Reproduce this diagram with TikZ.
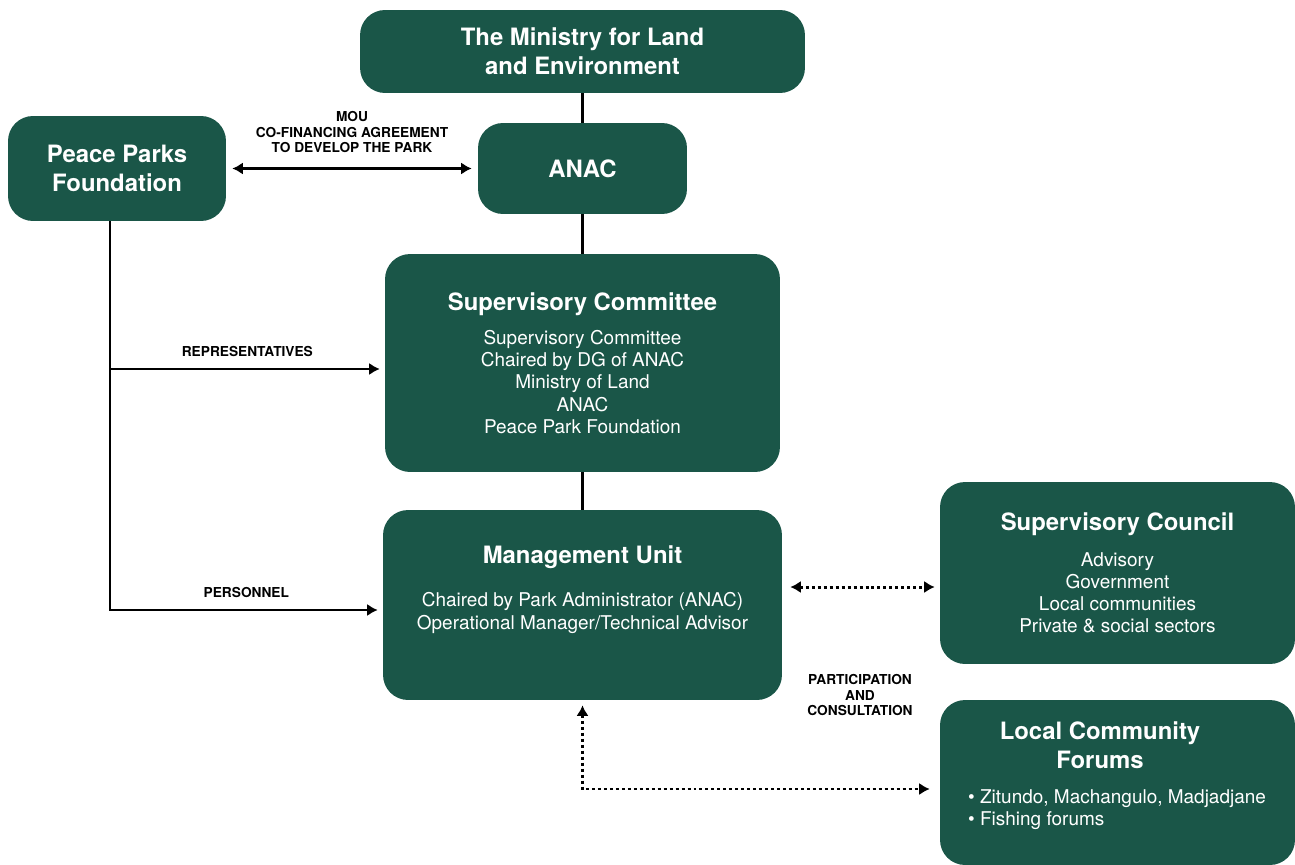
\documentclass[tikz,border=0pt]{standalone}
\usepackage{fontspec}
\setmainfont{TeX Gyre Heros}
\usetikzlibrary{arrows.meta,positioning}
\definecolor{parkgreen}{RGB}{26,86,72}

\newcommand{\headfont}{\fontsize{13.6}{16.4}\selectfont\bfseries}
\newcommand{\bodyfont}{\fontsize{10.8}{12.6}\selectfont}
\newcommand{\labfont}{\fontsize{7.8}{8.8}\selectfont\bfseries}

\begin{document}
\begin{tikzpicture}[x=0.02cm, y=-0.02cm,
  box/.style={fill=parkgreen, rounded corners=0.5cm, text=white, align=center, inner sep=0pt},
  head/.style={font=\headfont, text=white, align=center},
  body/.style={font=\bodyfont, text=white, align=center},
  link/.style={line width=1.4pt},
  dots/.style={line width=1.7pt, dash pattern=on 1.7pt off 1.7pt},
  oneway/.style={-{Latex[length=6pt,width=7pt]}},
  twoway/.style={{Latex[length=6pt,width=7pt]}-{Latex[length=6pt,width=7pt]}},
  lbl/.style={font=\labfont, align=center}]

\useasboundingbox (0,0) rectangle (1295,865);

% boxes
\node[box, head, minimum width=8.9cm, minimum height=1.66cm] (min) at (582.5,51.5) {The Ministry for Land\\and Environment};
\node[box, head, minimum width=4.36cm, minimum height=2.1cm] (ppf) at (117,168.5) {Peace Parks\\Foundation};
\node[box, head, minimum width=4.18cm, minimum height=1.82cm] (anac) at (582.5,168.5) {ANAC};
\node[box, body, minimum width=7.9cm, minimum height=4.36cm] (sc) at (582.5,363)
  {{\headfont Supervisory Committee}\\[7pt]Supervisory Committee\\Chaired by DG of ANAC\\Ministry of Land\\ANAC\\Peace Park Foundation};
\node[box, minimum width=7.98cm, minimum height=3.8cm] (mu) at (582.5,605) {};
\node[head] (muhead) at (582.5,557) {Management Unit};
\node[body] (mubody) at (582.5,613) {Chaired by Park Administrator (ANAC)\\Operational Manager/Technical Advisor};
\node[box, body, minimum width=7.1cm, minimum height=3.64cm] (council) at (1117.5,573)
  {{\headfont Supervisory Council}\\[8pt]Advisory\\Government\\Local communities\\Private \& social sectors};
\node[box, minimum width=7.1cm, minimum height=3.3cm] (lcf) at (1117.5,782.5) {};
\node[head] (lcfhead) at (1100,745) {Local Community\\Forums};
\node[body, align=left, anchor=west] (lcfbody) at (962,810) {\textbullet{} Zitundo, Machangulo, Madjadjane\\\textbullet{} Fishing forums};

% hierarchy
\draw[link] (min) -- (anac);
\draw[link] (anac) -- (sc);
\draw[link] (sc) -- (mu);

% peace parks links
\draw[link, twoway, shorten <=0.12cm, shorten >=0.12cm] (ppf.east) --
  node[lbl, above=0.17cm] (moulbl) {MOU\\CO-FINANCING AGREEMENT\\TO DEVELOP THE PARK} (anac.west);
\coordinate (trunk) at ([xshift=-0.14cm]ppf.south);
\draw[link, oneway, shorten >=0.1cm] (trunk) |- ([yshift=-0.12cm]sc.west)
  node[lbl, pos=0.75, above=0.11cm] (replbl) {REPRESENTATIVES};
\draw[link, oneway, shorten >=0.1cm] (trunk) |- ([yshift=-0.1cm]mu.west)
  node[lbl, pos=0.75, above=0.11cm] (perslbl) {PERSONNEL};

% consultation
\draw[dots, twoway, shorten <=0.16cm, shorten >=0.1cm] ([yshift=0.36cm]mu.east) -- ([yshift=0.36cm]mu.east -| council.west);
\draw[dots, twoway, shorten <=0.1cm, shorten >=0.2cm] (mu.south) |- ([yshift=-0.13cm]lcf.west);
\node[lbl] (partlbl) at (860,695) {PARTICIPATION\\AND\\CONSULTATION};
\end{tikzpicture}
\end{document}
